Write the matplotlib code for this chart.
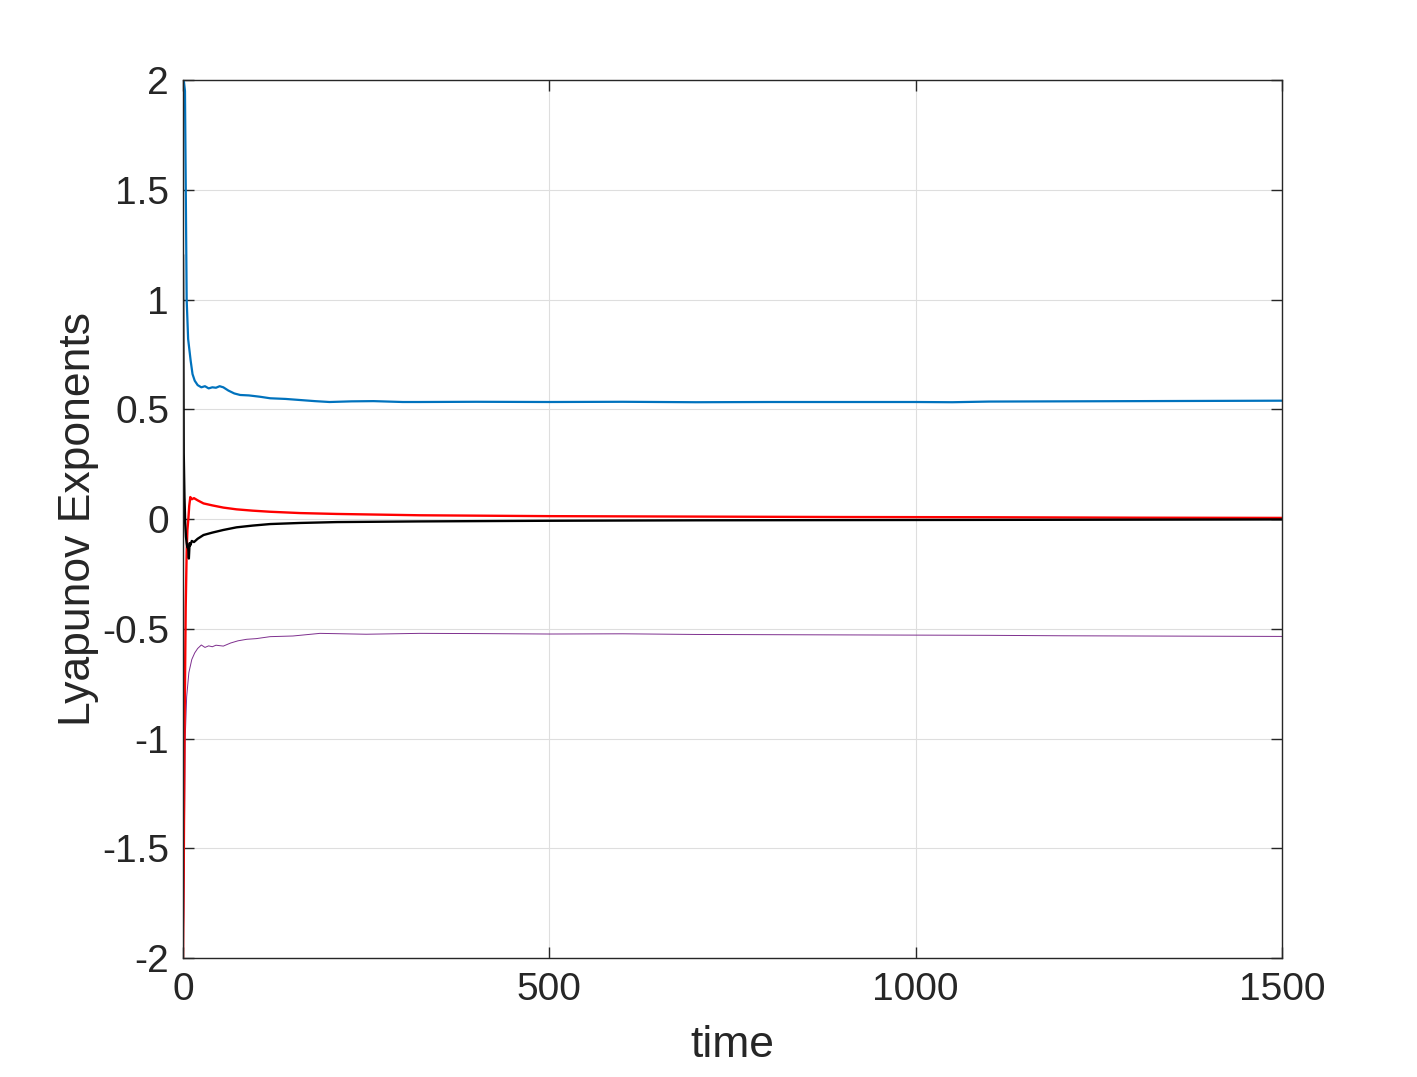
#!/usr/bin/env python3
"""
Lyapunov exponent convergence plot (MATLAB-style look).
"""

import matplotlib
matplotlib.use('Agg')
import matplotlib.pyplot as plt

# Time samples and exponent estimates
t_blue = [0, 1, 2.7, 5, 7, 10.5, 13, 16, 20, 25, 30, 35, 40, 45, 50, 55, 62, 70, 78,
          90, 105, 119, 140, 160, 180, 200, 230, 260, 300, 323, 400, 500, 600,
          700, 800, 900, 1000, 1050, 1100, 1200, 1300, 1400, 1500]
lam1 = [2.0, 2.0, 1.95, 1.0, 0.82, 0.72, 0.66, 0.63, 0.61, 0.60, 0.605, 0.595, 0.60,
        0.598, 0.605, 0.60, 0.585, 0.572, 0.565, 0.563, 0.557, 0.55, 0.547, 0.542,
        0.537, 0.533, 0.536, 0.537, 0.533, 0.533, 0.534, 0.533, 0.534, 0.532,
        0.533, 0.533, 0.533, 0.532, 0.535, 0.536, 0.537, 0.538, 0.539]

t_red = [0, 1, 2, 3.7, 5, 6, 7.3, 8.5, 10, 12, 15, 20, 28, 40, 55, 73, 95, 119,
         160, 210, 323, 500, 700, 900, 1100, 1300, 1500]
lam2 = [-2.0, -1.6, -1.0, -0.4, -0.15, -0.05, 0.0, 0.06, 0.1, 0.09, 0.095, 0.085,
        0.071, 0.062, 0.052, 0.044, 0.038, 0.033, 0.027, 0.023, 0.017, 0.013,
        0.011, 0.009, 0.008, 0.006, 0.005]

t_black = [0, 1, 2, 3, 4, 5, 6, 7, 8, 9, 10, 12, 15, 20, 28, 40, 55, 73, 95, 119,
           160, 210, 323, 500, 700, 900, 1100, 1300, 1500]
lam3 = [1.2, 0.3, 0.1, -0.02, -0.08, -0.11, -0.13, -0.126, -0.18, -0.11, -0.12,
        -0.1, -0.105, -0.09, -0.073, -0.062, -0.05, -0.038, -0.03, -0.023, -0.018,
        -0.014, -0.011, -0.008, -0.006, -0.005, -0.004, -0.003, -0.002]

t_purple = [0, 1, 2, 3, 5, 8, 12, 16, 20, 25, 30, 35, 40, 45, 55, 65, 75, 87, 100,
            119, 150, 187, 250, 323, 400, 500, 600, 700, 800, 900, 1000, 1100,
            1200, 1300, 1400, 1500]
lam4 = [-2.0, -1.8, -1.4, -1.0, -0.81, -0.70, -0.64, -0.61, -0.59, -0.574, -0.585,
        -0.578, -0.582, -0.575, -0.579, -0.565, -0.555, -0.548, -0.545, -0.536,
        -0.533, -0.521, -0.525, -0.521, -0.522, -0.524, -0.523, -0.526, -0.527,
        -0.528, -0.529, -0.530, -0.532, -0.533, -0.534, -0.535]

x_ticks = [0, 500, 1000, 1500]
y_ticks = [-2, -1.5, -1, -0.5, 0, 0.5, 1, 1.5, 2]
y_tick_labels = ['-2', '-1.5', '-1', '-0.5', '0', '0.5', '1', '1.5', '2']

plt.rcParams['font.family'] = ['Liberation Sans', 'DejaVu Sans']

fig = plt.figure(figsize=(14.17, 10.77), dpi=100)
ax = fig.add_axes([183 / 1417, 1 - 958 / 1077, 1099 / 1417, 878 / 1077])

ax.plot(t_purple, lam4, color='#7E2F8E', lw=0.7)
ax.plot(t_red, lam2, color='#FF0000', lw=1.7)
ax.plot(t_black, lam3, color='#000000', lw=1.7)
ax.plot(t_blue, lam1, color='#0072BD', lw=1.6)

ax.set_xlim(0, 1500)
ax.set_ylim(-2, 2)
ax.set_xticks(x_ticks)
ax.set_yticks(y_ticks)
ax.set_yticklabels(y_tick_labels)

ax.grid(True, color='#dedede', lw=0.8)
ax.set_axisbelow(True)
ax.tick_params(direction='in', length=8, width=1, colors='#262626',
               labelsize=28, top=True, right=True, pad=10)
for s in ax.spines.values():
    s.set_color('#262626')
    s.set_linewidth(1.0)

ax.set_xlabel('time', fontsize=32, color='#262626', labelpad=12)
ax.set_ylabel('Lyapunov Exponents', fontsize=32, color='#262626', labelpad=2)

fig.savefig('out.png', dpi=100)
